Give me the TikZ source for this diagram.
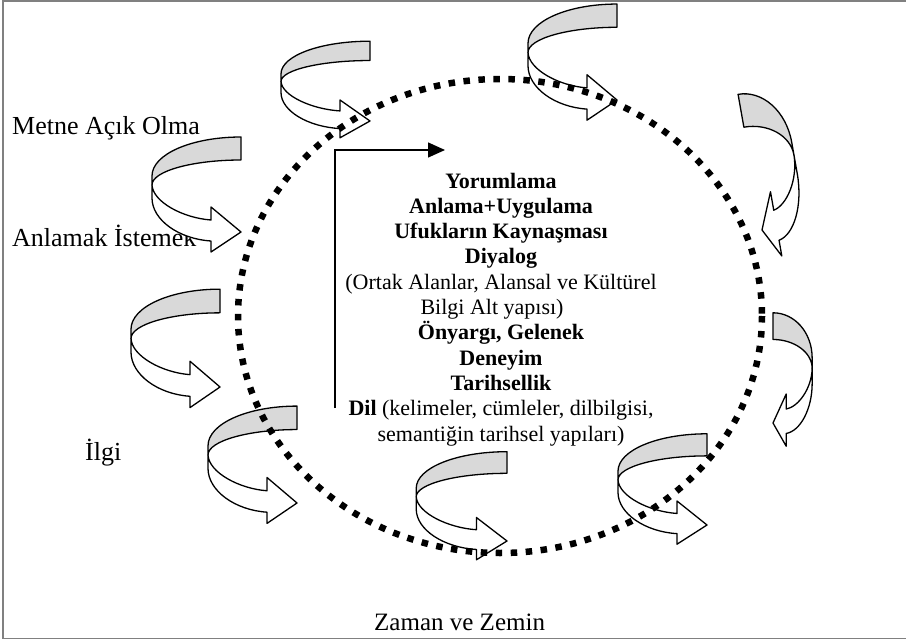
\documentclass[tikz,border=0pt]{standalone}
\usepackage{fontspec}
\setmainfont{Liberation Serif}
\usetikzlibrary{arrows.meta}
\tikzset{
  ribbonline/.style={draw=black, line width=1.3pt, line join=round},
  grayband/.style={ribbonline, fill=gray!30},
  whiteband/.style={ribbonline, fill=white},
  dotring/.style={line width=6.5pt, dash pattern=on 6.5pt off 8.5pt},
  framepart/.style={draw=black!50, line width=1.5pt},
  sidelabel/.style={anchor=base west, inner sep=0pt, font=\fontsize{26}{30}\selectfont},
  bottomlabel/.style={anchor=base west, inner sep=0pt, font=\fontsize{25}{30}\selectfont},
  centerline/.style={anchor=base, inner sep=0pt, font=\fontsize{22}{25}\selectfont},
  steparrow/.style={line width=1.4pt, -{Triangle[length=17pt,width=15pt]}},
}
\newcommand{\ribbonshape}[1]{%
  \begin{scope}[#1]
    \path[grayband] (0,-95) .. controls (-49,-95) and (-89,-78) .. (-89,-56)
      -- (-89,-47) .. controls (-89,-61) and (-48,-72) .. (0,-72) -- cycle;
    \path[whiteband] (-89,-47) .. controls (-88,-30) and (-58,-14) .. (-30,-12)
      -- (-30,-25) -- (0,0) -- (-30,20) -- (-30,9)
      .. controls (-62,7) and (-89,-12) .. (-89,-34) -- cycle;
  \end{scope}}
\begin{document}
\begin{tikzpicture}[x=1pt,y=-1pt]
\useasboundingbox (0,0) rectangle (906,642);
% frame
\draw[framepart] (906,1) -- (3,1) -- (3,638.5) -- (906,638.5);
% side labels
\node[sidelabel] (metne) at (12,135) {Metne Açık Olma};
\node[sidelabel] (anlamak) at (12,246) {Anlamak İstemek};
\node[sidelabel] (ilgi) at (85,460) {İlgi};
\node[bottomlabel] (zaman) at (374,630) {Zaman ve Zemin};
% ribbons
\ribbonshape{shift={(370,121)}, yscale=0.84}
\ribbonshape{shift={(617,100)}, yscale=1.01}
\ribbonshape{shift={(241,232)}, yscale=1.0}
\ribbonshape{shift={(220,387)}, yscale=1.03}
\ribbonshape{shift={(297,503)}, yscale=1.02}
\ribbonshape{shift={(507,541)}, xscale=1.02, yscale=0.94}
\ribbonshape{shift={(707,525)}, yscale=0.96}
\ribbonshape{shift={(762,230)}, rotate=10, xscale=-0.5, yscale=1.45}
\ribbonshape{shift={(773,423)}, xscale=-0.44, yscale=1.16}
% dotted ring
\draw[dotring] (500,316) ellipse [x radius=262, y radius=237];
% step arrow
\coordinate (stepbot) at (335,408);
\coordinate (stepcorner) at (335,150);
\coordinate (stephead) at (445,150);
\draw[steparrow] (stepbot) -- (stepcorner) -- (stephead);
% centre text
\node[centerline] (t1) at (501,188) {\textbf{Yorumlama}};
\node[centerline] (t2) at (501,213.3) {\textbf{Anlama+Uygulama}};
\node[centerline] (t3) at (501,238.6) {\textbf{Ufukların Kaynaşması}};
\node[centerline] (t4) at (501,263.9) {\textbf{Diyalog}};
\node[centerline] (t5) at (501,289.2) {(Ortak Alanlar, Alansal ve Kültürel};
\node[centerline] (t6) at (492,314.5) {Bilgi Alt yapısı)};
\node[centerline] (t7) at (501,339.8) {\textbf{Önyargı, Gelenek}};
\node[centerline] (t8) at (501,365.1) {\textbf{Deneyim}};
\node[centerline] (t9) at (501,390.4) {\textbf{Tarihsellik}};
\node[centerline] (t10) at (501,415.7) {\textbf{Dil} (kelimeler, cümleler, dilbilgisi,};
\node[centerline] (t11) at (501,441) {semantiğin tarihsel yapıları)};
\end{tikzpicture}
\end{document}
